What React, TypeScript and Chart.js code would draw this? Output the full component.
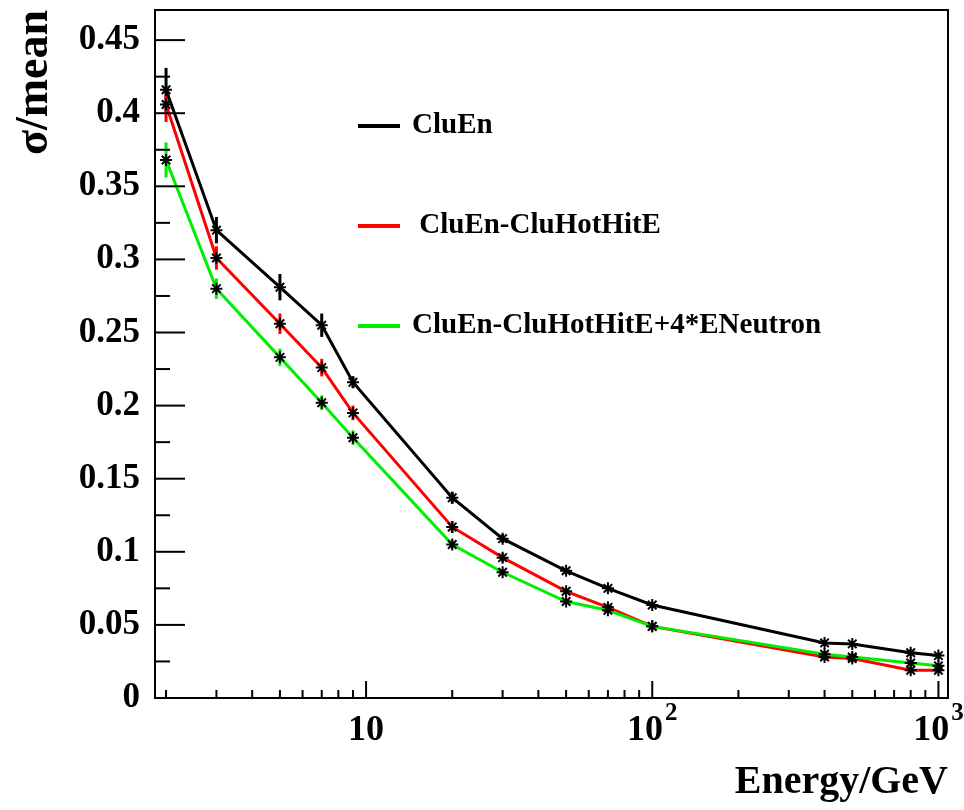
import React, { useEffect, useRef } from 'react';
import { Chart, registerables } from 'chart.js';

Chart.register(...registerables);

// ---- data ----
const energies = [2, 3, 5, 7, 9, 20, 30, 50, 70, 100, 400, 500, 800, 1000];

const cluEn = [0.416, 0.320, 0.281, 0.255, 0.216, 0.137, 0.109, 0.087, 0.075, 0.0636, 0.0377, 0.037, 0.031, 0.029];
const cluEnErr = [0.015, 0.009, 0.009, 0.008, 0.004, 0.004, 0.003, 0.002, 0.002, 0.002, 0.002, 0.002, 0.002, 0.002];

const cluEnHot = [0.406, 0.301, 0.256, 0.226, 0.195, 0.117, 0.096, 0.073, 0.062, 0.049, 0.028, 0.027, 0.019, 0.019];
const cluEnHotErr = [0.012, 0.008, 0.007, 0.006, 0.005, 0.004, 0.003, 0.002, 0.002, 0.002, 0.002, 0.002, 0.002, 0.002];

const cluEnNeutron = [0.368, 0.280, 0.233, 0.202, 0.178, 0.105, 0.086, 0.066, 0.060, 0.049, 0.030, 0.028, 0.024, 0.022];
const cluEnNeutronErr = [0.012, 0.007, 0.006, 0.005, 0.005, 0.003, 0.002, 0.002, 0.002, 0.002, 0.002, 0.002, 0.002, 0.002];

const yTickValues = [0, 0.05, 0.1, 0.15, 0.2, 0.25, 0.3, 0.35, 0.4, 0.45];
const yTickLabels = ['0', '0.05', '0.1', '0.15', '0.2', '0.25', '0.3', '0.35', '0.4', '0.45'];
const xTickValues = [10, 100, 1000];
const xTickBase = ['10', '10', '10'];
const xTickExp = ['', '2', '3'];

const legendLabels = ['CluEn', ' CluEn-CluHotHitE', 'CluEn-CluHotHitE+4*ENeutron'];
const legendColors = ['#000000', '#ff0000', '#00ee00'];

const FONT = '"Liberation Serif", "Times New Roman", serif';

const errorBarPlugin = {
  id: 'errorBars',
  beforeDatasetsDraw(chart: any) {
    const ctx = chart.ctx;
    const xs = chart.scales.x;
    const ys = chart.scales.y;
    ctx.save();
    chart.data.datasets.forEach((ds: any) => {
      const errs: number[] = ds.errors || [];
      ctx.strokeStyle = ds.borderColor;
      ctx.lineWidth = 3;
      ds.data.forEach((p: any, i: number) => {
        const e = errs[i] || 0;
        const px = xs.getPixelForValue(p.x);
        ctx.beginPath();
        ctx.moveTo(px, ys.getPixelForValue(p.y - e));
        ctx.lineTo(px, ys.getPixelForValue(p.y + e));
        ctx.stroke();
      });
    });
    ctx.restore();
  },
};

const framePlugin = {
  id: 'rootFrame',
  afterDraw(chart: any) {
    const ctx = chart.ctx;
    const { left, right, top, bottom } = chart.chartArea;
    const xs = chart.scales.x;
    const ys = chart.scales.y;
    ctx.save();
    ctx.strokeStyle = '#000';
    ctx.lineWidth = 2;
    ctx.strokeRect(left, top, right - left, bottom - top);

    // y ticks (inside, on left)
    for (let k = 0; k <= 18; k++) {
      const v = k * 0.025;
      const py = ys.getPixelForValue(v);
      if (py < top) continue;
      const len = k % 2 === 0 ? 30 : 15;
      ctx.beginPath();
      ctx.moveTo(left, py);
      ctx.lineTo(left + len, py);
      ctx.stroke();
    }
    // x ticks (inside, on bottom)
    for (let dec = 1; dec <= 1000; dec *= 10) {
      for (let m = 1; m <= 9; m++) {
        const v = dec * m;
        if (v < xs.min || v > xs.max) continue;
        const px = xs.getPixelForValue(v);
        const len = m === 1 ? 17 : 8;
        ctx.beginPath();
        ctx.moveTo(px, bottom);
        ctx.lineTo(px, bottom - len);
        ctx.stroke();
      }
    }

    // x tick labels with superscript exponents
    ctx.fillStyle = '#000';
    ctx.textBaseline = 'alphabetic';
    ctx.textAlign = 'left';
    const baseFont = `bold 36px ${FONT}`;
    const expFont = `bold 25px ${FONT}`;
    xTickValues.forEach((v, i) => {
      const px = xs.getPixelForValue(v);
      ctx.font = baseFont;
      const wb = ctx.measureText(xTickBase[i]).width;
      ctx.font = expFont;
      const we = xTickExp[i] ? ctx.measureText(xTickExp[i]).width + 2 : 0;
      const startX = px - (wb + we) / 2;
      const baseY = bottom + 42;
      ctx.font = baseFont;
      ctx.fillText(xTickBase[i], startX, baseY);
      if (we) {
        ctx.font = expFont;
        ctx.fillText(xTickExp[i], startX + wb + 2, baseY - 20);
      }
    });

    // legend
    const lx1 = left + 203;
    const lx2 = left + 245;
    const tx = left + 257;
    const y0 = top + 116;
    ctx.font = `bold 29px ${FONT}`;
    ctx.textBaseline = 'middle';
    ctx.textAlign = 'left';
    legendLabels.forEach((lab, i) => {
      const y = y0 + i * 100;
      ctx.strokeStyle = legendColors[i];
      ctx.lineWidth = 4;
      ctx.beginPath();
      ctx.moveTo(lx1, y);
      ctx.lineTo(lx2, y);
      ctx.stroke();
      ctx.fillStyle = '#000';
      ctx.fillText(lab, tx, y);
    });
    ctx.restore();
  },
};

function makeDataset(label: string, vals: number[], errs: number[], color: string) {
  return {
    label,
    data: energies.map((e, i) => ({ x: e, y: vals[i] })),
    errors: errs,
    borderColor: color,
    backgroundColor: color,
    borderWidth: 3,
    tension: 0,
    pointStyle: 'star',
    pointRadius: 6,
    pointBorderColor: '#000',
    pointBackgroundColor: '#000',
    pointBorderWidth: 2,
  };
}

export default function App() {
  const ref = useRef<HTMLCanvasElement | null>(null);
  useEffect(() => {
    if (!ref.current) return;
    const chart = new Chart(ref.current, {
      type: 'line',
      data: {
        datasets: [
          makeDataset('CluEn', cluEn, cluEnErr, legendColors[0]),
          makeDataset('CluEn-CluHotHitE+4*ENeutron', cluEnNeutron, cluEnNeutronErr, legendColors[2]),
          makeDataset('CluEn-CluHotHitE', cluEnHot, cluEnHotErr, legendColors[1]),
        ] as any,
      },
      options: {
        animation: false,
        responsive: false,
        maintainAspectRatio: false,
        layout: { padding: { left: 0, top: 10, right: 16, bottom: 0 } },
        plugins: { legend: { display: false }, tooltip: { enabled: false } },
        scales: {
          x: {
            type: 'logarithmic',
            min: 1.83,
            max: 1080,
            grid: { display: false, drawTicks: false },
            border: { display: false },
            afterBuildTicks: (s: any) => {
              s.ticks = xTickValues.map((v) => ({ value: v }));
            },
            afterFit: (s: any) => {
              s.height = 112;
              s.paddingLeft = 0;
              s.paddingRight = 0;
            },
            ticks: {
              display: false,
              autoSkip: false,
              maxRotation: 0,
            },
            title: {
              display: true,
              text: 'Energy/GeV',
              align: 'end',
              color: '#000',
              font: { family: FONT, size: 40, weight: 'bold' },
              padding: { top: 0, bottom: 3 },
            },
          },
          y: {
            type: 'linear',
            min: 0,
            max: 0.4706,
            grid: { display: false, drawTicks: false },
            border: { display: false },
            afterBuildTicks: (s: any) => {
              s.ticks = yTickValues.map((v) => ({ value: v }));
            },
            afterFit: (s: any) => {
              s.width = 155;
              s.paddingTop = 0;
              s.paddingBottom = 0;
            },
            ticks: {
              autoSkip: false,
              padding: 15,
              color: '#000',
              font: { family: FONT, size: 35, weight: 'bold' },
              callback: (_v: any, i: number) => yTickLabels[i],
            },
            title: {
              display: true,
              text: '\u03C3/mean',
              align: 'end',
              color: '#000',
              font: { family: FONT, size: 46, weight: 'bold' },
              padding: { top: 8, bottom: 0 },
            },
          },
        },
      } as any,
      plugins: [errorBarPlugin, framePlugin],
    });
    return () => chart.destroy();
  }, []);

  return (
    <div style={{ position: 'fixed', left: 0, top: 0, width: 964, height: 810, background: '#fff' }}>
      <canvas ref={ref} width={964} height={810} style={{ width: 964, height: 810, display: 'block' }} />
    </div>
  );
}
